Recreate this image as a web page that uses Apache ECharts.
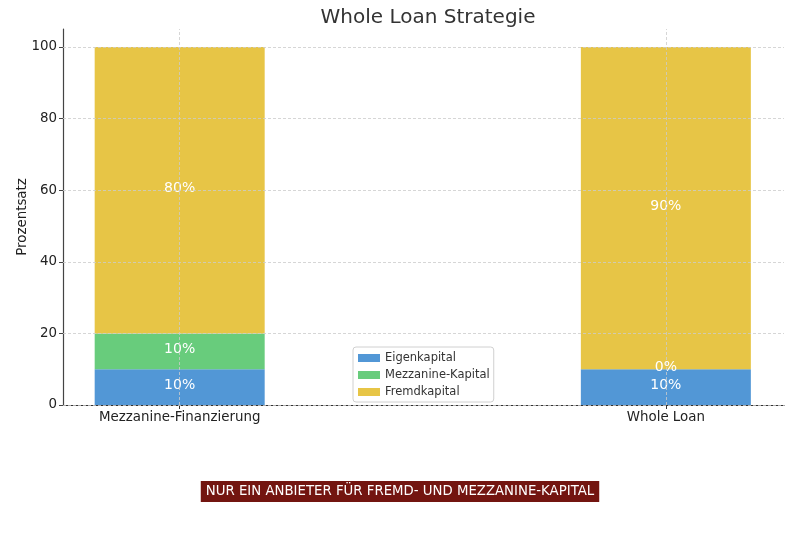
<!DOCTYPE html>
<html><head><meta charset="utf-8">
<script src="https://cdn.jsdelivr.net/npm/echarts@6/dist/echarts.min.js"></script>
<style>html,body{margin:0;padding:0;background:#fff}#c{width:800px;height:534px}</style>
</head><body><div id="c"></div>
<script>
const categories = ['Mezzanine-Finanzierung', 'Whole Loan'];
const eigenkapital = [10, 10];
const mezzanineKapital = [10, 0];
const fremdkapital = [80, 90];
const yTicks = [0, 20, 40, 60, 80, 100];
const seriesNames = ['Eigenkapital', 'Mezzanine-Kapital', 'Fremdkapital'];
const colors = ['#5297d6', '#68cc7c', '#e7c546'];

const F = 'DejaVu Sans';
const chart = echarts.init(document.getElementById('c'), null, {renderer: 'canvas'});
const allSeries = [eigenkapital, mezzanineKapital, fremdkapital];

const gridLines = [];
yTicks.forEach(v => gridLines.push({yAxis: v}));
categories.forEach((c, i) => gridLines.push({xAxis: i}));

// value first, position second: the first dimension is the stacked one
const series = allSeries.map((arr, si) => ({
  name: seriesNames[si],
  type: 'bar',
  stack: 'total',
  barWidth: 170,
  encode: {x: 1, y: 0},
  itemStyle: {color: colors[si]},
  data: arr.map((v, i) => [v, i]),
  label: {
    show: true, position: 'inside', color: '#fff', fontFamily: F, fontSize: 14,
    offset: [0, -2],
    formatter: p => p.value[0] + '%'
  },
  z: 2
}));
series.push({
  type: 'line', data: [], silent: true, z: 5, showSymbol: false,
  markLine: {
    silent: true, symbol: 'none', label: {show: false},
    lineStyle: {color: '#cccccc', type: [3, 2], width: 0.8},
    data: gridLines
  }
});

chart.setOption({
  animation: false,
  color: colors,
  title: {
    text: 'Whole Loan Strategie', left: 423, top: 3, textAlign: 'center',
    textStyle: {fontFamily: F, fontSize: 20, fontWeight: 'normal', color: '#333'}
  },
  grid: {left: 63, right: 16, top: 29, bottom: 129, containLabel: false},
  legend: {
    data: seriesNames, orient: 'vertical', left: 353, top: 347,
    itemWidth: 22, itemHeight: 8, itemGap: 5,
    icon: 'rect',
    padding: [5, 4, 4, 5],
    borderColor: '#d0d0d0', borderWidth: 1, borderRadius: 3,
    backgroundColor: 'rgba(255,255,255,0.85)',
    textStyle: {fontFamily: F, fontSize: 11.5, color: '#333'}
  },
  xAxis: {
    type: 'value', min: -0.24, max: 1.243,
    axisLine: {show: true, onZero: false, lineStyle: {color: '#333', width: 1.2}},
    axisTick: {show: true, customValues: [0, 1], length: 4, lineStyle: {color: '#333'}},
    axisLabel: {customValues: [0, 1], formatter: v => categories[Math.round(v)],
      fontFamily: F, fontSize: 13.4, color: '#222', margin: 6},
    splitLine: {show: false}
  },
  yAxis: {
    type: 'value', min: 0, max: 105, interval: 20,
    name: 'Prozentsatz', nameLocation: 'middle', nameGap: 34, nameMoveOverlap: false,
    nameTextStyle: {fontFamily: F, fontSize: 13.4, color: '#222'},
    axisLine: {show: true, onZero: false, lineStyle: {color: '#444', width: 1.2}},
    axisTick: {show: true, customValues: yTicks, length: 4, lineStyle: {color: '#444'}},
    axisLabel: {customValues: yTicks, fontFamily: F, fontSize: 13.4, color: '#222', margin: 6},
    splitLine: {show: false}
  },
  graphic: [{
    type: 'text', left: 'center', top: 481,
    style: {
      text: 'NUR EIN ANBIETER FÜR FREMD- UND MEZZANINE-KAPITAL',
      fill: '#fff', font: '13.3px "DejaVu Sans"',
      backgroundColor: '#731510', padding: [4, 5, 4, 5]
    }
  }],
  series: series
});
</script></body></html>
